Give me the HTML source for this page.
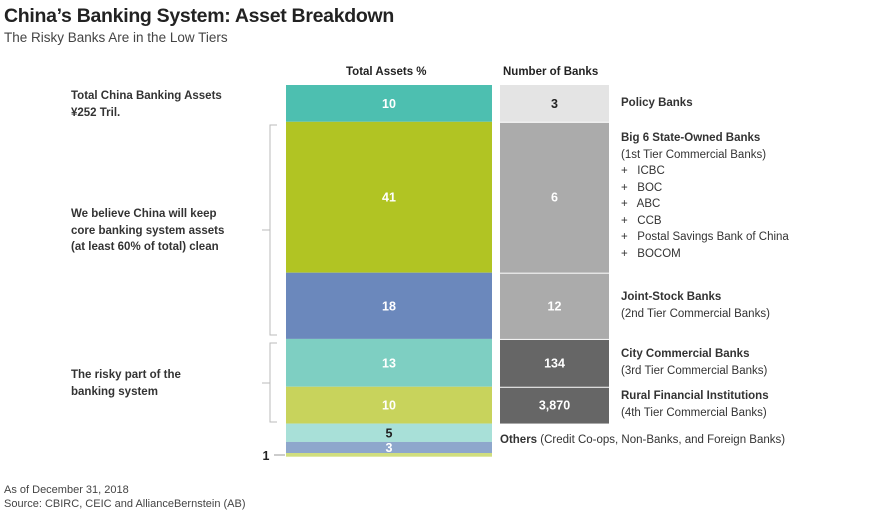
<!DOCTYPE html>
<html><head><meta charset="utf-8"><style>
body{margin:0;width:880px;height:512px;background:#fff;font-family:"Liberation Sans",sans-serif;color:#222;position:relative;overflow:hidden}
.t{position:absolute;white-space:nowrap}
.b{font-weight:bold}
.lbl{font-size:11.5px;line-height:16.5px;color:#333}
</style></head><body>
<div class="t b" style="left:4px;top:5px;font-size:19.5px;color:#222;letter-spacing:-0.3px">China’s Banking System: Asset Breakdown</div>
<div class="t" style="left:4px;top:30px;font-size:13.5px;color:#444">The Risky Banks Are in the Low Tiers</div>
<div class="t b" style="left:346px;top:66px;font-size:11.5px">Total Assets %</div>
<div class="t b" style="left:503px;top:66px;font-size:11.5px">Number of Banks</div>
<div class="t b lbl" style="left:71px;top:88px">Total China Banking Assets<br>¥252 Tril.</div>
<div class="t b lbl" style="left:71px;top:206px">We believe China will keep<br>core banking system assets<br>(at least 60% of total) clean</div>
<div class="t b lbl" style="left:71px;top:367px">The risky part of the<br>banking system</div>
<div class="t lbl" style="left:621px;top:95px"><b>Policy Banks</b></div>
<div class="t lbl" style="left:621px;top:130px"><b>Big 6 State-Owned Banks</b><br>(1st Tier Commercial Banks)<br>+&nbsp;&nbsp; ICBC<br>+&nbsp;&nbsp; BOC<br>+&nbsp;&nbsp; ABC<br>+&nbsp;&nbsp; CCB<br>+&nbsp;&nbsp; Postal Savings Bank of China<br>+&nbsp;&nbsp; BOCOM</div>
<div class="t lbl" style="left:621px;top:289px"><b>Joint-Stock Banks</b><br>(2nd Tier Commercial Banks)</div>
<div class="t lbl" style="left:621px;top:346px"><b>City Commercial Banks</b><br>(3rd Tier Commercial Banks)</div>
<div class="t lbl" style="left:621px;top:388px"><b>Rural Financial Institutions</b><br>(4th Tier Commercial Banks)</div>
<div class="t lbl" style="left:500px;top:432px"><b>Others</b> (Credit Co-ops, Non-Banks, and Foreign Banks)</div>
<div class="t" style="left:4px;top:484px;font-size:11px;color:#444">As of December 31, 2018</div>
<div class="t" style="left:4px;top:498px;font-size:11px;color:#444">Source: CBIRC, CEIC and AllianceBernstein (AB)</div>
<svg id="c" width="880" height="512" style="position:absolute;left:0;top:0">
<path d="M277 125H270V335H277M262 230H270M277 343H270V422H277M262 383H270" fill="none" stroke="#bbb" stroke-width="1"/>
<path d="M274 455H285" stroke="#999"/>
</svg>
<script>
const categories=["Policy","Big6","JointStock","City","Rural","Others1","Others2","Others3"];
const assetShares=[10,41,18,13,10,5,3,1];
const bankGroups=["Policy","Big6","JointStock","City","Rural"];
const bankCounts=["3","6","12","134","3,870"];
const segColors=["#4dbfb0","#b1c423","#6b88bc","#7ecfc2","#c8d35c","#a8e0d8","#8ea7cc","#d0de7e"];
const boxColors=["#e4e4e4","#ababab","#ababab","#666","#666"];
const NS="http://www.w3.org/2000/svg",svg=document.getElementById('c');
const top0=85,k=3.68;
function y(v){return top0+v*k;}
let cum=0;
assetShares.forEach((v,i)=>{
 const r=document.createElementNS(NS,'rect');
 r.setAttribute('x',286);r.setAttribute('width',206);
 r.setAttribute('y',y(cum));r.setAttribute('height',v*k);
 r.setAttribute('fill',segColors[i]);
 
 
 svg.appendChild(r);
 const t=document.createElementNS(NS,'text');
 let ty=y(cum+v/2)+4.5;
 if(i==7){t.setAttribute('x',266);ty=y(cum+v/2)+5;t.setAttribute('fill','#222');}
 else {t.setAttribute('x',389);t.setAttribute('fill',i==5?'#222':'#fff');}
 t.setAttribute('y',ty);t.setAttribute('text-anchor','middle');
 t.setAttribute('font-size','12.5');t.setAttribute('font-weight','bold');
 t.setAttribute('font-family','Liberation Sans, sans-serif');
 t.textContent=v;
 
 
 svg.appendChild(t);
 if(i<bankCounts.length){
  const b=document.createElementNS(NS,'rect');
  b.setAttribute('x',500);b.setAttribute('width',109);
  b.setAttribute('y',y(cum)+(i?1:0));b.setAttribute('height',v*k-(i?1:0));
  b.setAttribute('fill',boxColors[i]);
  
  
  svg.appendChild(b);
  const bt=document.createElementNS(NS,'text');
  bt.setAttribute('x',554.5);bt.setAttribute('y',y(cum+v/2)+4.5);
  bt.setAttribute('text-anchor','middle');bt.setAttribute('font-size','12.5');
  bt.setAttribute('font-weight','bold');bt.setAttribute('font-family','Liberation Sans, sans-serif');
  bt.setAttribute('fill',i==0?'#222':'#fff');
  bt.textContent=bankCounts[i];
  
  
  svg.appendChild(bt);
 }
 cum+=v;
});
</script>
</body></html>
